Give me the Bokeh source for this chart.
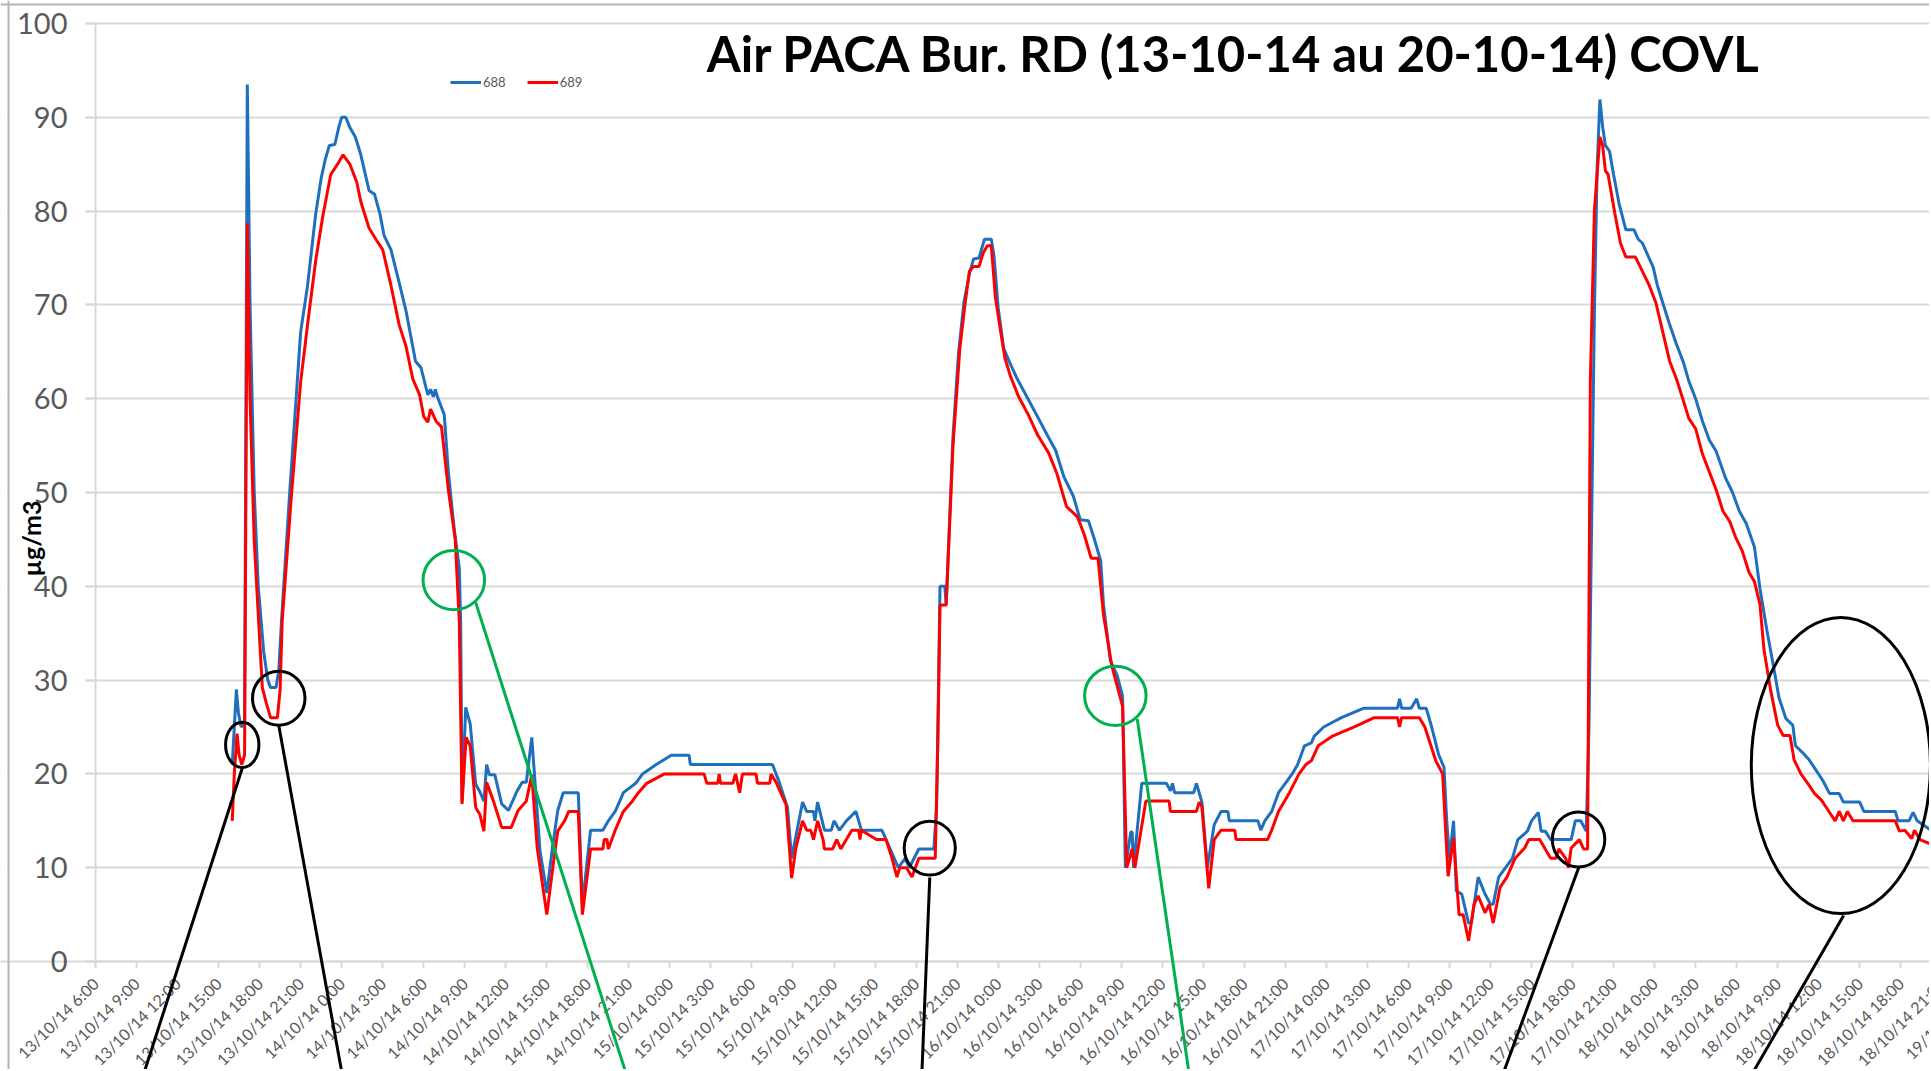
import math
import datetime as dt
from bokeh.plotting import figure
from bokeh.models import (FixedTicker, Label, Legend, LegendItem, Range1d, BoxAnnotation, Span)
from bokeh.core.properties import value
from bokeh.embed import file_html
from bokeh.resources import INLINE

# ---------------- data (hours since 13/10/14 6:00, µg/m3) ----------------
t688 = [10.0, 10.15, 10.3, 10.45, 10.65, 10.9, 11.1, 11.3, 11.6, 11.9, 12.3, 12.6, 12.8, 13.2, 13.4, 13.6,
        14.2, 15.0, 15.5, 16.1, 16.5, 16.8, 17.1, 17.5, 17.8, 18.0, 18.3, 18.6, 19.0, 19.4, 20.0, 20.4,
        20.8, 21.1, 21.6, 22.2, 22.7, 23.4, 23.8, 24.3, 24.5, 24.7, 24.85, 25.0, 25.5, 25.8, 26.2, 26.6,
        26.7, 26.8, 27.07, 27.4, 27.8, 28.1, 28.4, 28.6, 28.8, 29.2, 29.7, 30.2, 30.8, 31.2, 31.5, 31.9,
        32.1, 32.5, 33.0, 33.4, 33.8, 34.2, 35.3, 35.6, 36.2, 37.1, 37.5, 38.0, 38.3, 38.6, 39.5, 40.0,
        41.0, 42.1, 43.4, 43.5, 49.5, 50.0, 50.6, 50.9, 51.7, 52.0, 52.5, 52.6, 52.8, 53.3, 53.8, 54.0,
        54.4, 54.9, 55.6, 56.0, 57.5, 58.1, 58.7, 59.2, 59.5, 60.2, 61.3, 61.5, 61.75, 62.1, 62.2, 62.7,
        63.1, 63.5, 63.9, 64.2, 64.6, 64.8, 65.0, 65.5, 65.7, 66.0, 66.4, 66.8, 67.4, 68.1, 68.8, 69.6,
        70.2, 70.8, 71.5, 72.0, 72.6, 73.0, 73.5, 73.7, 74.2, 74.7, 75.1, 75.3, 75.7, 75.8, 75.9, 76.5,
        78.3, 78.6, 78.75, 78.9, 80.3, 80.5, 80.9, 81.3, 81.8, 82.3, 82.8, 82.9, 85.0, 85.2, 85.5, 86.0,
        86.5, 87.0, 87.5, 87.9, 88.4, 88.9, 89.1, 89.8, 91.1, 92.7, 95.2, 95.35, 95.5, 96.2, 96.6, 96.8,
        97.3, 97.7, 98.2, 98.6, 98.8, 99.0, 99.3, 99.5, 99.9, 100.4, 100.6, 101.1, 101.6, 102.0, 102.2, 102.6,
        103.1, 103.6, 104.0, 104.7, 105.0, 105.5, 105.7, 106.0, 106.4, 107.9, 108.2, 108.6, 109.0, 109.2, 109.6, 109.8,
        110.0, 110.2, 110.4, 110.7, 111.0, 111.4, 111.9, 112.5, 112.8, 113.1, 113.5, 113.9, 114.2, 114.6, 115.1, 115.6,
        116.1, 116.5, 117.0, 117.5, 118.0, 118.5, 119.2, 119.7, 120.2, 120.7, 121.3, 121.7, 122.2, 122.7, 123.1, 123.6,
        124.1, 124.3, 124.8, 125.3, 125.8, 126.3, 126.8, 127.5, 127.8, 129.0, 129.3, 131.6, 131.8, 132.6, 132.9, 133.2,
        134.2]
v688 = [21, 25, 29, 26.5, 25, 25.5, 93.5, 70, 50.3, 40, 33, 30, 29.2, 29.2, 31, 36.3,
        50, 67.1, 72, 79.7, 83.5, 85.5, 87, 87.1, 89, 90, 90, 88.9, 87.9, 86, 82.2, 81.8,
        79.7, 77.4, 75.9, 72.4, 69.4, 64, 63.3, 60.4, 61, 60.2, 61, 60.2, 58.3, 52.2, 46.5, 41.9,
        36.3, 17, 27.1, 25.3, 18.9, 18.1, 17.1, 21, 19.9, 19.9, 16.8, 16.1, 18.1, 19.1, 19.1, 23.9,
        19.9, 11.8, 7.3, 12, 16.1, 18, 18, 6, 14, 14, 15, 16, 17, 18, 19, 20,
        21, 22, 22, 21, 21, 19.1, 16.4, 11, 17, 16, 16, 15, 17, 14, 14, 15,
        14, 15, 16, 14, 14, 12, 10, 11, 10, 12, 12, 16.4, 40, 40, 38, 56,
        64.8, 70.3, 73.3, 74.9, 75, 76, 77, 77, 75.2, 69.7, 65.4, 64, 62.1, 60.2, 58.3, 56.1,
        54.5, 51.7, 49.6, 47.1, 47, 45.2, 42.7, 38.1, 32.1, 30.5, 28.3, 10, 13.8, 13.8, 10, 19,
        19, 18.2, 19, 18, 18, 19, 17, 10, 14.6, 16, 16, 15, 15, 14, 15, 16,
        18, 19, 20, 21, 23, 23.3, 24, 25, 26, 27, 27, 28, 27, 27, 28, 27,
        27, 25, 22.1, 20.7, 15, 11, 15, 7.5, 7.2, 4.1, 4.1, 9, 7.2, 6.1, 6.1, 9,
        10, 11, 13, 13.9, 15, 15.9, 13.9, 13.9, 13, 13, 15, 15, 13.9, 25, 69.4, 84.7,
        91.9, 89, 87, 86.4, 83.9, 80.8, 78, 78, 77, 76.6, 75.3, 74, 72.1, 70.2, 67.9, 65.8,
        63.9, 61.9, 60, 57.6, 55.6, 54.4, 51.5, 50, 48, 46.7, 44.2, 39.8, 35.4, 31.4, 28.1, 25.9,
        25.2, 23, 22.3, 21.5, 20.4, 19.3, 17.9, 17.9, 17, 17, 16, 16, 15, 15, 15.9, 15,
        14]

t689 = [10.0, 10.15, 10.35, 10.5, 10.7, 10.9, 11.1, 11.3, 11.6, 11.9, 12.2, 12.5, 12.8, 13.3, 13.5, 13.65,
        14.3, 15.0, 15.6, 16.1, 16.6, 17.2, 17.7, 18.1, 18.6, 19.1, 19.4, 20.0, 20.5, 21.0, 21.6, 22.2,
        22.7, 23.2, 23.7, 24.0, 24.3, 24.5, 24.9, 25.3, 25.8, 26.3, 26.6, 26.8, 27.1, 27.4, 27.8, 28.1,
        28.4, 28.6, 29.1, 29.7, 30.4, 30.9, 31.5, 31.9, 32.3, 33.0, 33.5, 33.8, 34.3, 34.6, 35.3, 35.6,
        36.2, 37.1, 37.2, 37.4, 37.5, 38.0, 38.6, 39.2, 39.7, 40.3, 41.6, 44.5, 44.7, 45.5, 45.6, 45.7,
        46.6, 46.8, 47.1, 47.3, 48.3, 48.4, 49.3, 49.4, 49.8, 50.5, 50.9, 51.2, 51.7, 52.0, 52.3, 52.5,
        52.8, 53.2, 53.3, 53.9, 54.2, 54.5, 54.9, 55.3, 55.8, 55.9, 56.0, 57.1, 57.8, 58.2, 58.6, 58.8,
        59.3, 59.7, 60.2, 61.4, 61.6, 61.75, 62.2, 62.7, 63.2, 63.6, 63.9, 64.2, 64.6, 64.9, 65.2, 65.5,
        65.8, 66.2, 66.5, 66.9, 67.5, 68.2, 68.9, 69.7, 70.3, 71.0, 71.8, 72.3, 72.8, 73.3, 73.7, 74.3,
        74.7, 75.1, 75.4, 75.8, 76.0, 76.8, 78.5, 78.6, 80.5, 80.7, 80.9, 81.4, 81.8, 82.3, 83.3, 83.4,
        85.7, 86.0, 86.5, 87.3, 88.0, 88.5, 88.9, 89.4, 90.4, 92.0, 93.5, 95.2, 95.35, 95.5, 96.8, 97.2,
        98.0, 98.5, 98.9, 99.3, 99.7, 100.0, 100.4, 100.8, 101.1, 101.6, 101.9, 102.2, 102.7, 103.2, 103.8, 104.5,
        104.8, 105.6, 106.0, 106.4, 106.8, 107.0, 107.5, 107.7, 107.9, 108.5, 108.8, 109.1, 109.3, 109.6, 110.0, 110.2,
        110.4, 110.6, 111.1, 111.5, 111.9, 112.6, 113.1, 113.6, 114.1, 114.6, 115.1, 115.6, 116.1, 116.5, 117.0, 117.5,
        118.0, 118.5, 119.0, 119.5, 119.9, 120.4, 120.9, 121.3, 121.7, 122.0, 122.5, 123.0, 123.4, 123.9, 124.2, 124.7,
        125.2, 125.7, 126.2, 126.7, 127.2, 127.5, 127.8, 128.1, 128.5, 131.6, 131.9, 132.3, 132.8, 133.0, 133.4, 134.2]
v689 = [15, 20, 24.3, 22, 21, 22, 78.7, 60, 45, 37, 29.2, 27.5, 26, 26, 29, 36.3,
        49.2, 61.8, 69, 74.7, 79.3, 83.9, 85, 86, 85, 83.1, 81, 78.2, 77, 75.9, 72.1, 67.9,
        65.6, 62.1, 60.4, 58.1, 57.5, 58.9, 57.6, 57, 50.3, 45, 36.3, 16.8, 23.9, 23, 16.4, 15.7,
        13.9, 19.1, 17.1, 14.3, 14.3, 16.1, 17.1, 19.9, 12.1, 5, 10.7, 13.9, 15, 16, 16, 5,
        12, 12, 13, 13, 12, 14, 16, 17, 18, 19, 20, 20, 19, 19, 20, 19,
        19, 20, 18, 20, 20, 19, 19, 20, 19, 16.7, 8.9, 12, 15, 14, 14, 13,
        15, 13, 12, 12, 13, 12, 13, 14, 14, 13, 14, 13, 13, 11.2, 9, 10,
        10, 9, 11, 11, 24, 38, 38, 55, 65.4, 70.3, 73.6, 74.1, 74.1, 75.5, 76.3, 76.3,
        70.8, 67, 64.3, 62.4, 60.2, 58.3, 56.1, 54.2, 52, 48.5, 47.4, 45.5, 43, 43, 37, 31.6,
        29.4, 27.2, 10, 12, 10, 17.1, 17.1, 16, 16, 17, 16.5, 7.8, 13, 14, 14, 13,
        13, 14, 16, 18, 20, 21, 21.4, 23, 24, 25, 26, 26, 25, 26, 26, 25,
        21.4, 20, 9.1, 13.2, 5, 5, 2.2, 6.1, 7, 5.2, 6.1, 4.1, 7.9, 9, 11, 12.1,
        13, 13, 12, 11, 11, 12, 11, 10, 12.1, 13, 12, 12, 61.8, 80.1, 87.9, 87,
        84.3, 83.9, 79.7, 76.6, 75.1, 75.1, 73.6, 72.1, 70.2, 67.1, 64, 62.1, 59.8, 57.9, 56.8, 54.1,
        52.2, 50.3, 48, 46.9, 45.3, 43.8, 41.5, 40.5, 38.1, 33.2, 28.8, 25.2, 24.1, 24.1, 21.5, 20,
        19, 17.9, 17.2, 16.1, 15, 16, 15, 16, 15, 15, 13.9, 14, 13.1, 14, 13, 12.5]

series_names = ["688", "689"]
y_ticks = list(range(0, 101, 10))
start = dt.datetime(2014, 10, 13, 6, 0)
tick_hours = list(range(0, 139, 3))
tick_labels = [(start + dt.timedelta(hours=h)).strftime("%d/%m/%y ") + "%d:00" % (start + dt.timedelta(hours=h)).hour
               for h in tick_hours]

title_text = "Air PACA Bur. RD (13-10-14 au 20-10-14) COVL"
y_title = "µg/m3"

# hand-drawn annotations (data space): ellipses (cx, cy, rx, ry) and connector lines
black_ellipses = [(10.73, 23.10, 1.22, 2.42), (13.40, 28.07, 1.92, 2.88), (61.0, 12.09, 1.87, 2.88),
                  (108.44, 13.0, 1.92, 2.93), (127.62, 20.9, 6.55, 15.81)]
green_ellipses = [(26.2, 40.67, 2.25, 3.16), (74.57, 28.33, 2.25, 3.16)]
black_lines = [((10.73, 20.61), (3.58, -11.73)), ((13.40, 25.16), (18.0, -11.73)),
               ((61.0, 8.96), (60.43, -11.73)), ((108.46, 10.05), (102.98, -11.73)),
               ((127.82, 4.9), (121.23, -11.73))]
green_lines = [((27.79, 38.31), (38.75, -11.73)), ((76.17, 25.87), (79.94, -11.73))]

BLUE = "#1f6fbf"
RED = "#ff0000"
GREEN = "#00b050"
GRID = "#d9d9d9"
TXT = "#595959"
BORDER = "#b4b4b4"

# the plotting frame covers the whole canvas; axes are pinned at x=0 / y=0
X_START, X_END = -6.946, 134.1
Y_START, Y_END = -11.51, 102.45
LABEL_V = -2.10   # level of rotated tick-label anchors (below the x axis)

p = figure(frame_width=1929, frame_height=1069, x_range=Range1d(X_START, X_END),
           y_range=Range1d(Y_START, Y_END), output_backend="svg", toolbar_location=None,
           min_border_left=0, min_border_right=0, min_border_top=0, min_border_bottom=0)
p.outline_line_color = None
p.background_fill_color = "white"
p.border_fill_color = "white"

p.xgrid.grid_line_color = None
p.ygrid.grid_line_color = GRID
p.ygrid.grid_line_width = 2
p.ygrid.ticker = FixedTicker(ticks=y_ticks)
# blank the grid to the left of the y-axis tick marks
p.add_layout(BoxAnnotation(right=-0.73, fill_color="white", fill_alpha=1, line_color=None, level="underlay"))

ya = p.yaxis[0]
ya.fixed_location = 0
ya.ticker = FixedTicker(ticks=y_ticks)
ya.bounds = (0, 100)
ya.axis_line_color = GRID
ya.axis_line_width = 2
ya.major_tick_line_color = GRID
ya.major_tick_line_width = 2
ya.major_tick_out = 10
ya.major_tick_in = 0
ya.minor_tick_line_color = None
ya.major_label_standoff = 18
ya.major_label_text_font = "Lato"
ya.major_label_text_font_size = "29px"
ya.major_label_text_color = TXT

xa = p.xaxis[0]
xa.fixed_location = 0
xa.ticker = FixedTicker(ticks=tick_hours)
xa.major_label_overrides = {h: lab for h, lab in zip(tick_hours, tick_labels)}
xa.major_label_orientation = math.pi / 4
xa.axis_line_color = GRID
xa.axis_line_width = 2
xa.major_tick_line_color = GRID
xa.major_tick_line_width = 2
xa.major_tick_out = 7
xa.major_tick_in = 0
xa.minor_tick_line_color = None
xa.major_label_standoff = 12
xa.major_label_text_font = "Lato"
xa.major_label_text_font_size = "16px"
xa.major_label_text_color = TXT

# tick labels that fall just past the cropped right edge
extra = [(h, lab) for h, lab in zip(tick_hours, tick_labels) if h > X_END]
p.text(x=[e[0] for e in extra], y=[LABEL_V] * len(extra), text=[e[1] for e in extra],
       angle=math.pi / 4, text_align="right", text_baseline="middle",
       text_font=value("Lato"), text_font_size="16px", text_color=TXT)

# chart-area border of the screenshot
p.add_layout(Span(location=-6.36, dimension="height", line_color=BORDER, line_width=2))
p.add_layout(Span(location=102.03, dimension="width", line_color=BORDER, line_width=2))

r1 = p.line(t688, v688, line_color=BLUE, line_width=3)
r2 = p.line(t689, v689, line_color=RED, line_width=3)

legend = Legend(items=[LegendItem(label=series_names[0], renderers=[r1]),
                       LegendItem(label=series_names[1], renderers=[r2])],
                orientation="horizontal", location=(450, 979),
                label_text_font="Lato", label_text_font_size="13px", label_text_color=TXT,
                glyph_width=31, glyph_height=14, label_height=14, label_standoff=2,
                spacing=21, padding=0, margin=0, border_line_color=None, background_fill_alpha=0)
p.add_layout(legend)

p.add_layout(Label(x=83.25, y=96.9, text=title_text, text_font="Lato", text_font_style="bold",
                   text_font_size="49px", text_color="black", text_align="center",
                   text_baseline="middle"))
p.add_layout(Label(x=-4.75, y=45.1, text=y_title, text_font="Lato", text_font_style="bold",
                   text_font_size="25px", text_color="black", text_align="center",
                   text_baseline="middle", angle=math.pi / 2))

for group, col in [(black_ellipses, "black"), (green_ellipses, GREEN)]:
    p.ellipse(x=[e[0] for e in group], y=[e[1] for e in group],
              width=[2 * e[2] for e in group], height=[2 * e[3] for e in group],
              fill_color=None, line_color=col, line_width=3, level="overlay")
for group, col in [(black_lines, "black"), (green_lines, GREEN)]:
    p.segment(x0=[l[0][0] for l in group], y0=[l[0][1] for l in group],
              x1=[l[1][0] for l in group], y1=[l[1][1] for l in group],
              line_color=col, line_width=3, level="overlay")

open("out.html", "w").write(file_html(p, INLINE))
